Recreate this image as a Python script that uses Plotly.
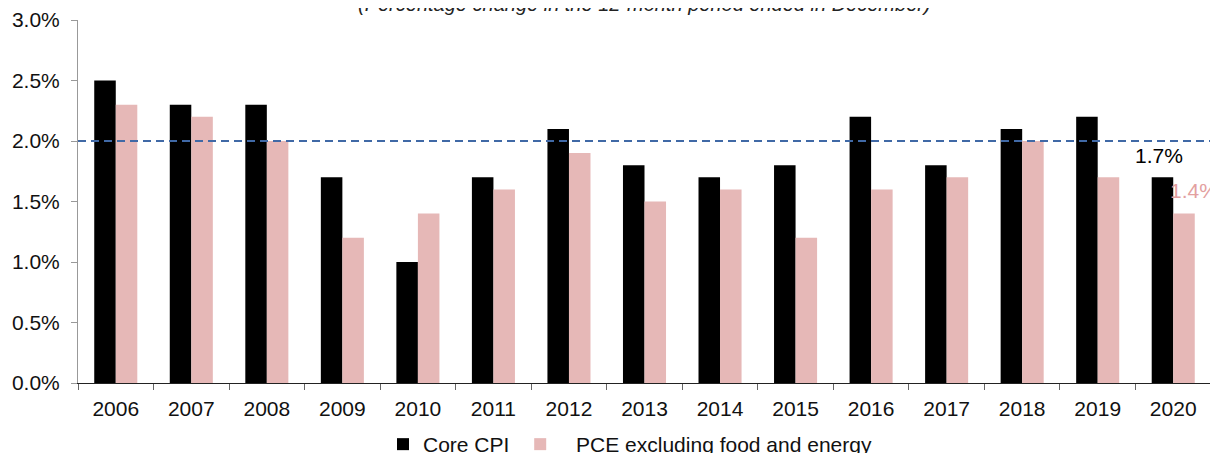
import plotly.graph_objects as go

years = ["2006", "2007", "2008", "2009", "2010", "2011", "2012", "2013",
         "2014", "2015", "2016", "2017", "2018", "2019", "2020"]
core_cpi = [2.5, 2.3, 2.3, 1.7, 1.0, 1.7, 2.1, 1.8, 1.7, 1.8, 2.2, 1.8, 2.1, 2.2, 1.7]
pce_core = [2.3, 2.2, 2.0, 1.2, 1.4, 1.6, 1.9, 1.5, 1.6, 1.2, 1.6, 1.7, 2.0, 1.7, 1.4]
target = 2.0

BLACK = "#000000"
PINK = "#e6b8b7"
PINK_TXT = "#e3a0a0"
FONT = "Liberation Sans, Arial, sans-serif"

W, H = 1210, 445

fig = go.Figure()
fig.add_trace(go.Bar(x=years, y=core_cpi, name="Core CPI\u00a0",
                     marker=dict(color=BLACK, line=dict(width=0))))
fig.add_trace(go.Bar(x=years, y=pce_core,
                     name="\u00a0\u00a0\u2009PCE excluding food and energy",
                     marker=dict(color=PINK, line=dict(width=0))))

fig.add_shape(type="line", xref="paper", yref="y", x0=0, x1=1.01,
              y0=target, y1=target,
              line=dict(color="#4069a6", width=1.8, dash="8px,5px"))

last = len(years) - 1
fig.add_annotation(x=last, y=core_cpi[-1], text=f"{core_cpi[-1]:.1f}%",
                   showarrow=False, xshift=-14, yshift=22,
                   font=dict(size=21, color=BLACK, family=FONT))
fig.add_annotation(x=last, y=pce_core[-1], text=f"{pce_core[-1]:.1f}%",
                   showarrow=False, xshift=21, yshift=23,
                   font=dict(size=21, color=PINK_TXT, family=FONT))

fig.add_annotation(xref="paper", yref="paper", x=0.5, y=1.0, yanchor="bottom",
                   yshift=3,
                   text="<i>(Percentage change in the 12-month period ended in December)</i>",
                   showarrow=False, font=dict(size=20, color="#222222", family=FONT))

fig.update_layout(
    width=W, height=H,
    margin=dict(l=70, r=7, t=12, b=70, autoexpand=False),
    plot_bgcolor="white", paper_bgcolor="white",
    barmode="group", bargap=0.43, bargroupgap=0,
    font=dict(family=FONT, size=21, color="#111111"),
    showlegend=True,
    legend=dict(orientation="h", x=375 / W, xanchor="left", xref="container",
                y=8.5 / H, yanchor="middle", yref="container",
                font=dict(size=21), traceorder="normal"),
    xaxis=dict(type="category", range=[-0.5, len(years) - 0.5], automargin=False,
               showline=True, linecolor="#222222", linewidth=1,
               ticks="outside", tickson="boundaries", ticklen=6, tickcolor="#666666",
               ticklabelstandoff=7,
               showgrid=False, tickfont=dict(size=21), tickangle=0),
    yaxis=dict(range=[0, 3.0], dtick=0.5, tickformat=".1f", ticksuffix="%",
               automargin=False,
               showline=True, linecolor="#999999", linewidth=1,
               ticks="outside", ticklen=6, tickcolor="#999999",
               ticklabelstandoff=7,
               showgrid=False, zeroline=False, tickfont=dict(size=21)),
)

fig.write_html("out.html")
